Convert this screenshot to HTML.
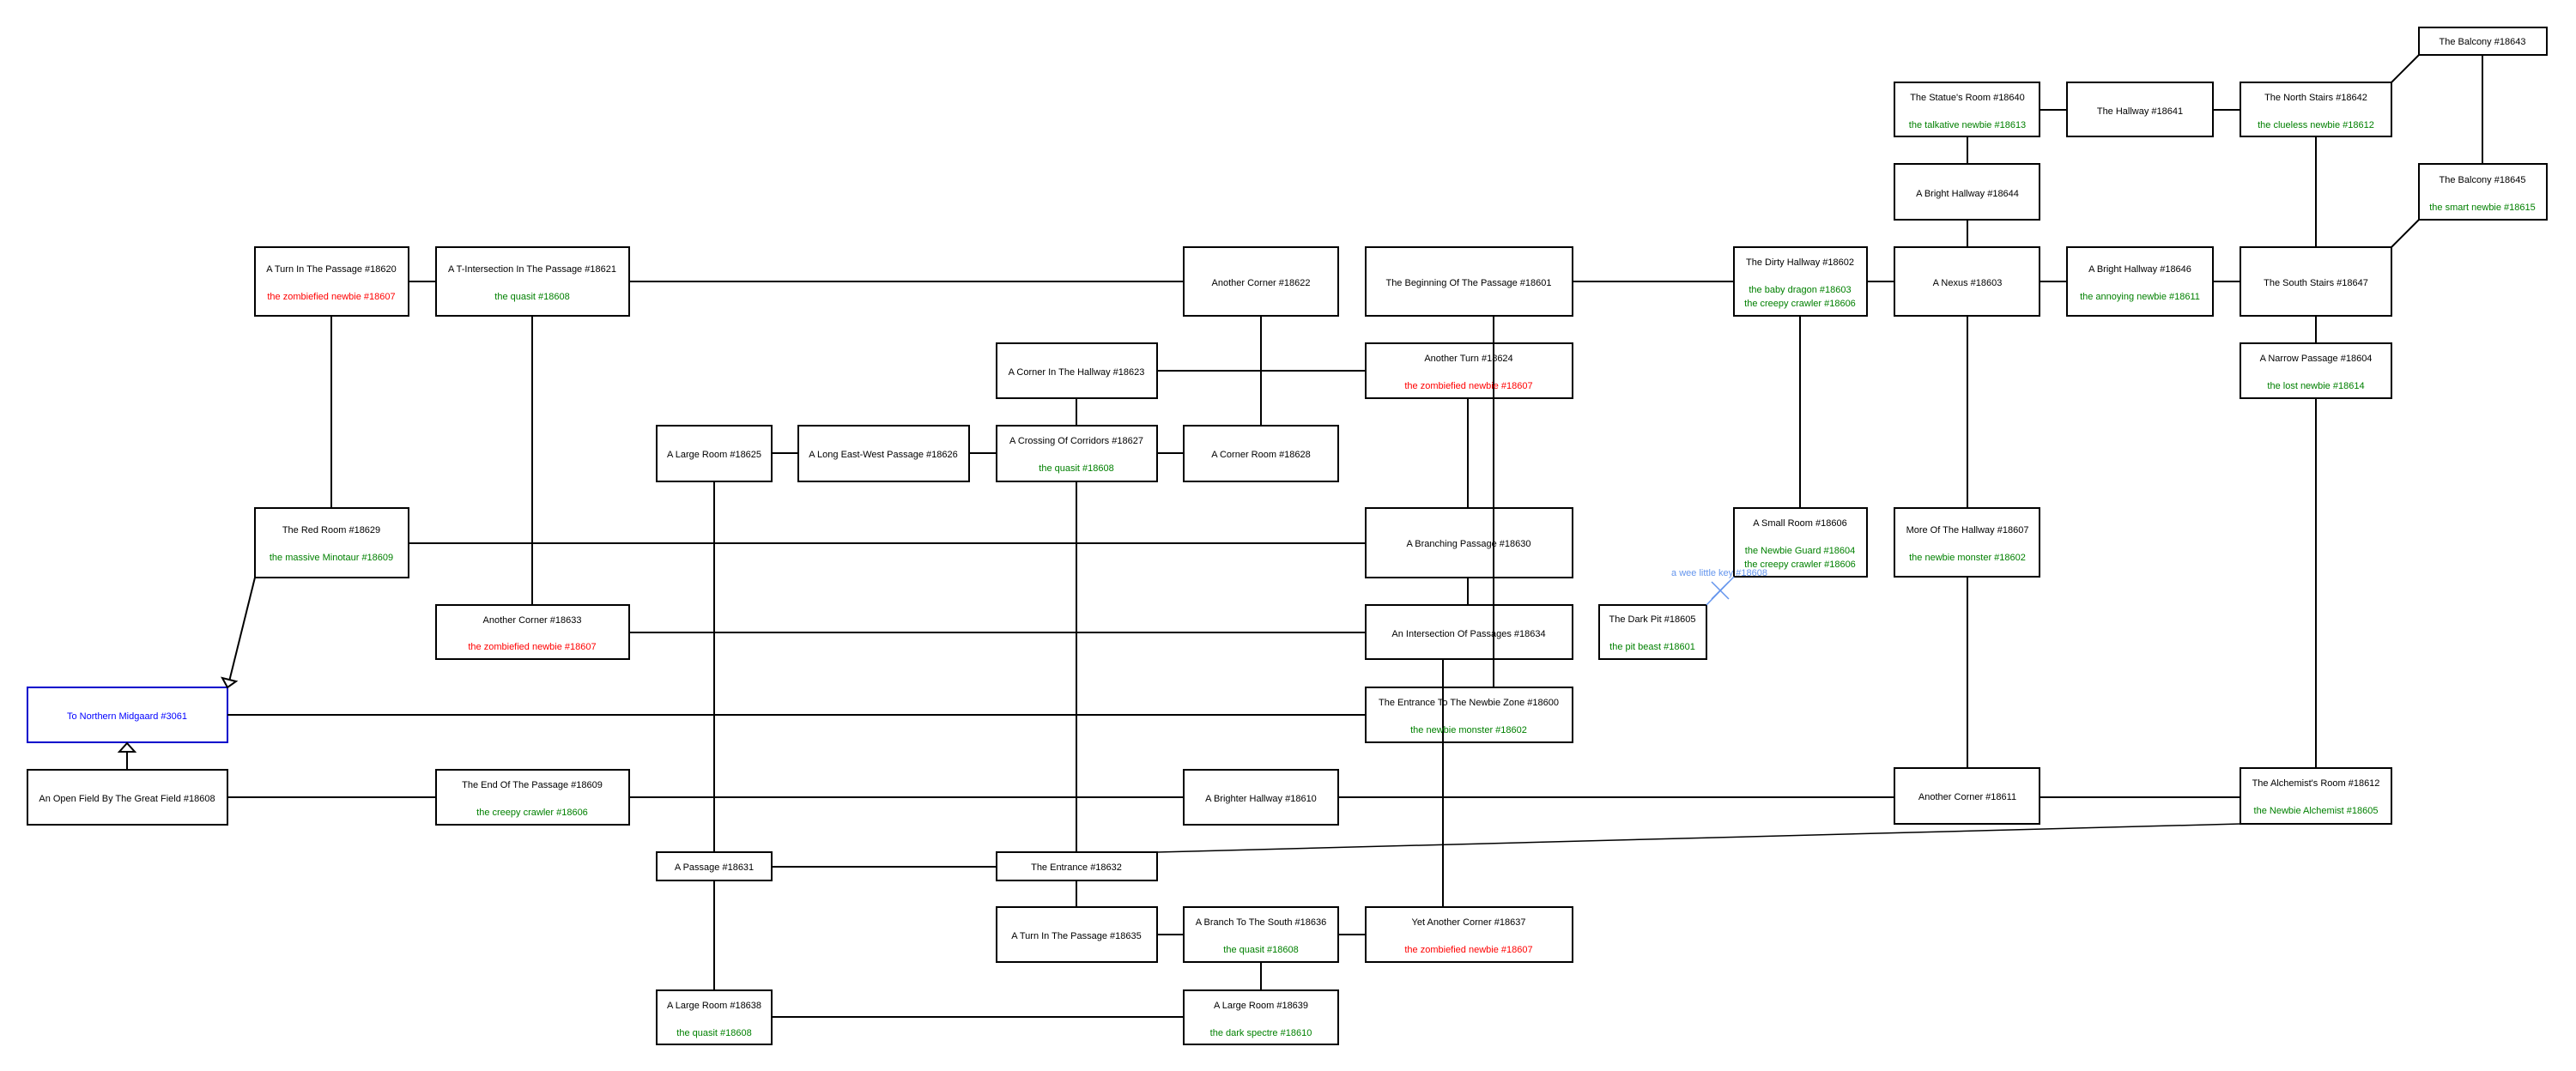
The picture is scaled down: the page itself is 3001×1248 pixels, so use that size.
<!DOCTYPE html>
<html><head><meta charset="utf-8"><style>
html,body{margin:0;padding:0;background:#fff;}
svg{display:block;}
text{font-family:"Liberation Sans",sans-serif;font-size:11px;text-anchor:middle;dominant-baseline:central;}
.t{fill:#000}.g{fill:#008000}.r{fill:#ff0000}.b{fill:#0000ff}
rect{fill:#fff;stroke:#000;stroke-width:2}
line,polyline{stroke:#000;stroke-width:2;fill:none}
</style></head><body>
<svg width="3001" height="1248" viewBox="0 0 3001 1248" xmlns="http://www.w3.org/2000/svg">
<g>
<rect x="297" y="288" width="179" height="80"/>
<rect x="508" y="288" width="225" height="80"/>
<rect x="1379" y="288" width="180" height="80"/>
<rect x="1591" y="288" width="241" height="80"/>
<rect x="2020" y="288" width="155" height="80"/>
<rect x="2207" y="288" width="169" height="80"/>
<rect x="2408" y="288" width="170" height="80"/>
<rect x="2610" y="288" width="176" height="80"/>
<rect x="2818" y="32" width="149" height="32"/>
<rect x="2207" y="96" width="169" height="63"/>
<rect x="2408" y="96" width="170" height="63"/>
<rect x="2610" y="96" width="176" height="63"/>
<rect x="2207" y="191" width="169" height="65"/>
<rect x="2818" y="191" width="149" height="65"/>
<rect x="1161" y="400" width="187" height="64"/>
<rect x="1591" y="400" width="241" height="64"/>
<rect x="2610" y="400" width="176" height="64"/>
<rect x="765" y="496" width="134" height="65"/>
<rect x="930" y="496" width="199" height="65"/>
<rect x="1161" y="496" width="187" height="65"/>
<rect x="1379" y="496" width="180" height="65"/>
<rect x="297" y="592" width="179" height="81"/>
<rect x="1591" y="592" width="241" height="81"/>
<rect x="2020" y="592" width="155" height="80"/>
<rect x="2207" y="592" width="169" height="80"/>
<rect x="508" y="705" width="225" height="63"/>
<rect x="1591" y="705" width="241" height="63"/>
<rect x="1863" y="705" width="125" height="63"/>
<rect x="32" y="801" width="233" height="64" style="stroke:#0000cc"/>
<rect x="1591" y="801" width="241" height="64"/>
<rect x="32" y="897" width="233" height="64"/>
<rect x="508" y="897" width="225" height="64"/>
<rect x="1379" y="897" width="180" height="64"/>
<rect x="2207" y="895" width="169" height="65"/>
<rect x="2610" y="895" width="176" height="65"/>
<rect x="765" y="993" width="134" height="33"/>
<rect x="1161" y="993" width="187" height="33"/>
<rect x="1161" y="1057" width="187" height="64"/>
<rect x="1379" y="1057" width="180" height="64"/>
<rect x="1591" y="1057" width="241" height="64"/>
<rect x="765" y="1154" width="134" height="63"/>
<rect x="1379" y="1154" width="180" height="63"/>
</g>
<g>
<line x1="476" y1="328" x2="508" y2="328"/>
<line x1="733" y1="328" x2="1379" y2="328"/>
<line x1="1832" y1="328" x2="2020" y2="328"/>
<line x1="2175" y1="328" x2="2207" y2="328"/>
<line x1="2376" y1="328" x2="2408" y2="328"/>
<line x1="2578" y1="328" x2="2610" y2="328"/>
<line x1="386" y1="368" x2="386" y2="592"/>
<line x1="620" y1="368" x2="620" y2="705"/>
<line x1="1469" y1="368" x2="1469" y2="496"/>
<line x1="1740" y1="368" x2="1740" y2="801"/>
<line x1="2097" y1="368" x2="2097" y2="592"/>
<line x1="2292" y1="159" x2="2292" y2="191"/>
<line x1="2292" y1="256" x2="2292" y2="288"/>
<line x1="2292" y1="368" x2="2292" y2="592"/>
<line x1="2292" y1="672" x2="2292" y2="895"/>
<line x1="2698" y1="159" x2="2698" y2="288"/>
<line x1="2698" y1="368" x2="2698" y2="400"/>
<line x1="2698" y1="464" x2="2698" y2="895"/>
<line x1="2376" y1="128" x2="2408" y2="128"/>
<line x1="2578" y1="128" x2="2610" y2="128"/>
<line x1="2786" y1="96" x2="2818" y2="64"/>
<line x1="2892" y1="64" x2="2892" y2="191"/>
<line x1="2818" y1="256" x2="2786" y2="288"/>
<line x1="1348" y1="432" x2="1591" y2="432"/>
<line x1="1254" y1="464" x2="1254" y2="496"/>
<line x1="1254" y1="561" x2="1254" y2="993"/>
<line x1="1254" y1="1026" x2="1254" y2="1057"/>
<line x1="1710" y1="464" x2="1710" y2="592"/>
<line x1="1710" y1="673" x2="1710" y2="705"/>
<line x1="1681" y1="768" x2="1681" y2="1057"/>
<line x1="899" y1="528" x2="930" y2="528"/>
<line x1="1129" y1="528" x2="1161" y2="528"/>
<line x1="1348" y1="528" x2="1379" y2="528"/>
<line x1="832" y1="561" x2="832" y2="993"/>
<line x1="832" y1="1026" x2="832" y2="1154"/>
<line x1="476" y1="633" x2="1591" y2="633"/>
<line x1="733" y1="737" x2="1591" y2="737"/>
<line x1="265" y1="833" x2="1591" y2="833"/>
<line x1="265" y1="929" x2="508" y2="929"/>
<line x1="733" y1="929" x2="1379" y2="929"/>
<line x1="1559" y1="929" x2="2207" y2="929"/>
<line x1="2376" y1="929" x2="2610" y2="929"/>
<line x1="899" y1="1010" x2="1161" y2="1010"/>
<line x1="1348" y1="993" x2="2610" y2="960" style="stroke-width:1.5"/>
<line x1="1348" y1="1089" x2="1379" y2="1089"/>
<line x1="1559" y1="1089" x2="1591" y2="1089"/>
<line x1="1469" y1="1121" x2="1469" y2="1154"/>
<line x1="899" y1="1185" x2="1379" y2="1185"/>
<line x1="297" y1="673" x2="267" y2="794"/>
<polygon points="265,801 259,790 275,794" style="fill:#fff;stroke:#000;stroke-width:2"/>
<line x1="148" y1="897" x2="148" y2="876"/>
<polygon points="148,866 139,876 157,876" style="fill:#fff;stroke:#000;stroke-width:2"/>
<line x1="1988" y1="705" x2="2020" y2="672" style="stroke:#6495ed;stroke-width:1.5"/>
<line x1="1994" y1="678" x2="2014" y2="698" style="stroke:#6495ed;stroke-width:1.5"/>
<line x1="1994" y1="698" x2="2014" y2="678" style="stroke:#6495ed;stroke-width:1.5"/>
</g>
<g>
<text class="t" x="386" y="314">A Turn In The Passage #18620</text><text class="r" x="386" y="346">the zombiefied newbie #18607</text>
<text class="t" x="620" y="314">A T-Intersection In The Passage #18621</text><text class="g" x="620" y="346">the quasit #18608</text>
<text class="t" x="1469" y="330">Another Corner #18622</text>
<text class="t" x="1711" y="330">The Beginning Of The Passage #18601</text>
<text class="t" x="2097" y="306">The Dirty Hallway #18602</text><text class="g" x="2097" y="338">the baby dragon #18603</text><text class="g" x="2097" y="354">the creepy crawler #18606</text>
<text class="t" x="2292" y="330">A Nexus #18603</text>
<text class="t" x="2493" y="314">A Bright Hallway #18646</text><text class="g" x="2493" y="346">the annoying newbie #18611</text>
<text class="t" x="2698" y="330">The South Stairs #18647</text>
<text class="t" x="2892" y="49">The Balcony #18643</text>
<text class="t" x="2292" y="114">The Statue's Room #18640</text><text class="g" x="2292" y="146">the talkative newbie #18613</text>
<text class="t" x="2493" y="130">The Hallway #18641</text>
<text class="t" x="2698" y="114">The North Stairs #18642</text><text class="g" x="2698" y="146">the clueless newbie #18612</text>
<text class="t" x="2292" y="226">A Bright Hallway #18644</text>
<text class="t" x="2892" y="210">The Balcony #18645</text><text class="g" x="2892" y="242">the smart newbie #18615</text>
<text class="t" x="1254" y="434">A Corner In The Hallway #18623</text>
<text class="t" x="1711" y="418">Another Turn #18624</text><text class="r" x="1711" y="450">the zombiefied newbie #18607</text>
<text class="t" x="2698" y="418">A Narrow Passage #18604</text><text class="g" x="2698" y="450">the lost newbie #18614</text>
<text class="t" x="832" y="530">A Large Room #18625</text>
<text class="t" x="1029" y="530">A Long East-West Passage #18626</text>
<text class="t" x="1254" y="514">A Crossing Of Corridors #18627</text><text class="g" x="1254" y="546">the quasit #18608</text>
<text class="t" x="1469" y="530">A Corner Room #18628</text>
<text class="t" x="386" y="618">The Red Room #18629</text><text class="g" x="386" y="650">the massive Minotaur #18609</text>
<text class="t" x="1711" y="634">A Branching Passage #18630</text>
<text class="t" x="2097" y="610">A Small Room #18606</text><text class="g" x="2097" y="642">the Newbie Guard #18604</text><text class="g" x="2097" y="658">the creepy crawler #18606</text>
<text class="t" x="2292" y="618">More Of The Hallway #18607</text><text class="g" x="2292" y="650">the newbie monster #18602</text>
<text class="t" x="620" y="723">Another Corner #18633</text><text class="r" x="620" y="754">the zombiefied newbie #18607</text>
<text class="t" x="1711" y="739">An Intersection Of Passages #18634</text>
<text class="t" x="1925" y="722">The Dark Pit #18605</text><text class="g" x="1925" y="754">the pit beast #18601</text>
<text class="b" x="148" y="835">To Northern Midgaard #3061</text>
<text class="t" x="1711" y="819">The Entrance To The Newbie Zone #18600</text><text class="g" x="1711" y="851">the newbie monster #18602</text>
<text class="t" x="148" y="931">An Open Field By The Great Field #18608</text>
<text class="t" x="620" y="915">The End Of The Passage #18609</text><text class="g" x="620" y="947">the creepy crawler #18606</text>
<text class="t" x="1469" y="931">A Brighter Hallway #18610</text>
<text class="t" x="2292" y="929">Another Corner #18611</text>
<text class="t" x="2698" y="913">The Alchemist's Room #18612</text><text class="g" x="2698" y="945">the Newbie Alchemist #18605</text>
<text class="t" x="832" y="1011">A Passage #18631</text>
<text class="t" x="1254" y="1011">The Entrance #18632</text>
<text class="t" x="1254" y="1091">A Turn In The Passage #18635</text>
<text class="t" x="1469" y="1075">A Branch To The South #18636</text><text class="g" x="1469" y="1107">the quasit #18608</text>
<text class="t" x="1711" y="1075">Yet Another Corner #18637</text><text class="r" x="1711" y="1107">the zombiefied newbie #18607</text>
<text class="t" x="832" y="1172">A Large Room #18638</text><text class="g" x="832" y="1204">the quasit #18608</text>
<text class="t" x="1469" y="1172">A Large Room #18639</text><text class="g" x="1469" y="1204">the dark spectre #18610</text>
<text x="2003" y="668" style="fill:#6495ed">a wee little key #18608</text>
</g>
</svg>
</body></html>
